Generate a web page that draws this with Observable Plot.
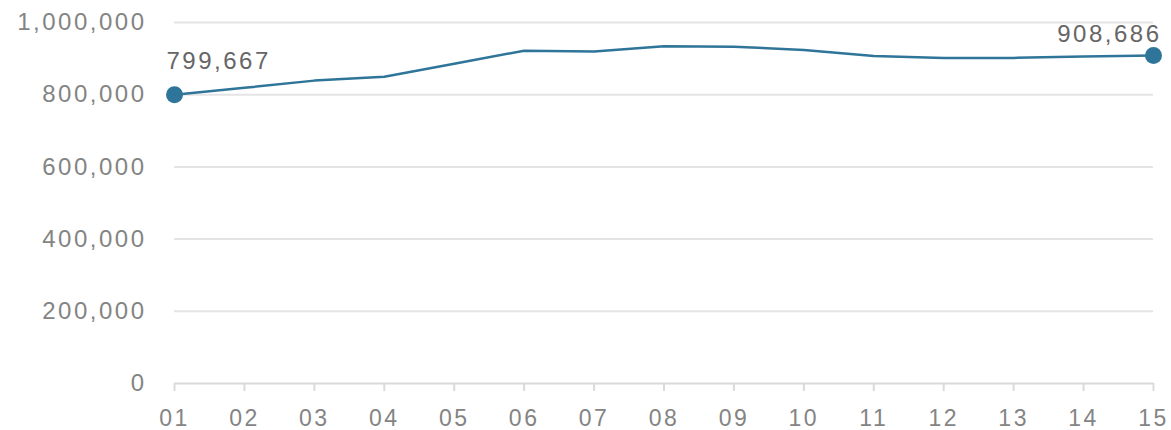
<!DOCTYPE html>
<html>
<head>
<meta charset="utf-8">
<script src="https://cdn.jsdelivr.net/npm/d3@7"></script>
<script src="https://cdn.jsdelivr.net/npm/@observablehq/plot@0.6"></script>
<style>
  html, body { margin: 0; padding: 0; background: #fff; }
  #chart svg text { letter-spacing: 2.5px; }
</style>
</head>
<body>
<div id="chart"></div>
<script>
const months = ["01","02","03","04","05","06","07","08","09","10","11","12","13","14","15"];
const values = [799667, 819000, 839000, 850000, 886000, 922000, 920000, 934000, 933000, 924000, 907000, 902000, 902000, 906000, 908686];
const yTicks = [0, 200000, 400000, 600000, 800000, 1000000];

const data = months.map((m, i) => ({month: m, value: values[i]}));
const first = [data[0]];
const last = [data[data.length - 1]];
const fmt = d3.format(",");

const chart = Plot.plot({
  width: 1171,
  height: 430,
  marginLeft: 174,
  marginRight: 18,
  marginTop: 22,
  marginBottom: 47,
  style: {fontFamily: "'Liberation Sans', Arial, sans-serif", background: "#fff"},
  x: {type: "point", domain: months, padding: 0, round: false},
  y: {domain: [0, 1000000]},
  marks: [
    Plot.ruleY(yTicks.filter(d => d > 0), {stroke: "#e4e4e4", strokeWidth: 2}),
    Plot.axisY(yTicks, {tickSize: 0, tickPadding: 28, tickFormat: fmt, fontSize: 24, fill: "#848484", label: null}),
    Plot.ruleY([0], {stroke: "#dadada", strokeWidth: 2}),
    Plot.axisX(months, {tickSize: 8, tickPadding: 18, stroke: "#dadada", strokeWidth: 2, strokeOpacity: 1, fontSize: 23, fill: "#848484", label: null}),
    Plot.line(data, {x: "month", y: "value", stroke: "#2f7599", strokeWidth: 2.5}),
    Plot.dot(first.concat(last), {x: "month", y: "value", r: 8.5, fill: "#2f7599", stroke: null}),
    Plot.text(first, {x: "month", y: "value", text: d => fmt(d.value), textAnchor: "start", lineAnchor: "bottom", dx: -8, dy: -26, fontSize: 24, fill: "#666"}),
    Plot.text(last, {x: "month", y: "value", text: d => fmt(d.value), textAnchor: "end", lineAnchor: "bottom", dx: 8, dy: -13, fontSize: 24, fill: "#666"})
  ]
});
document.getElementById("chart").append(chart);
</script>
</body>
</html>
